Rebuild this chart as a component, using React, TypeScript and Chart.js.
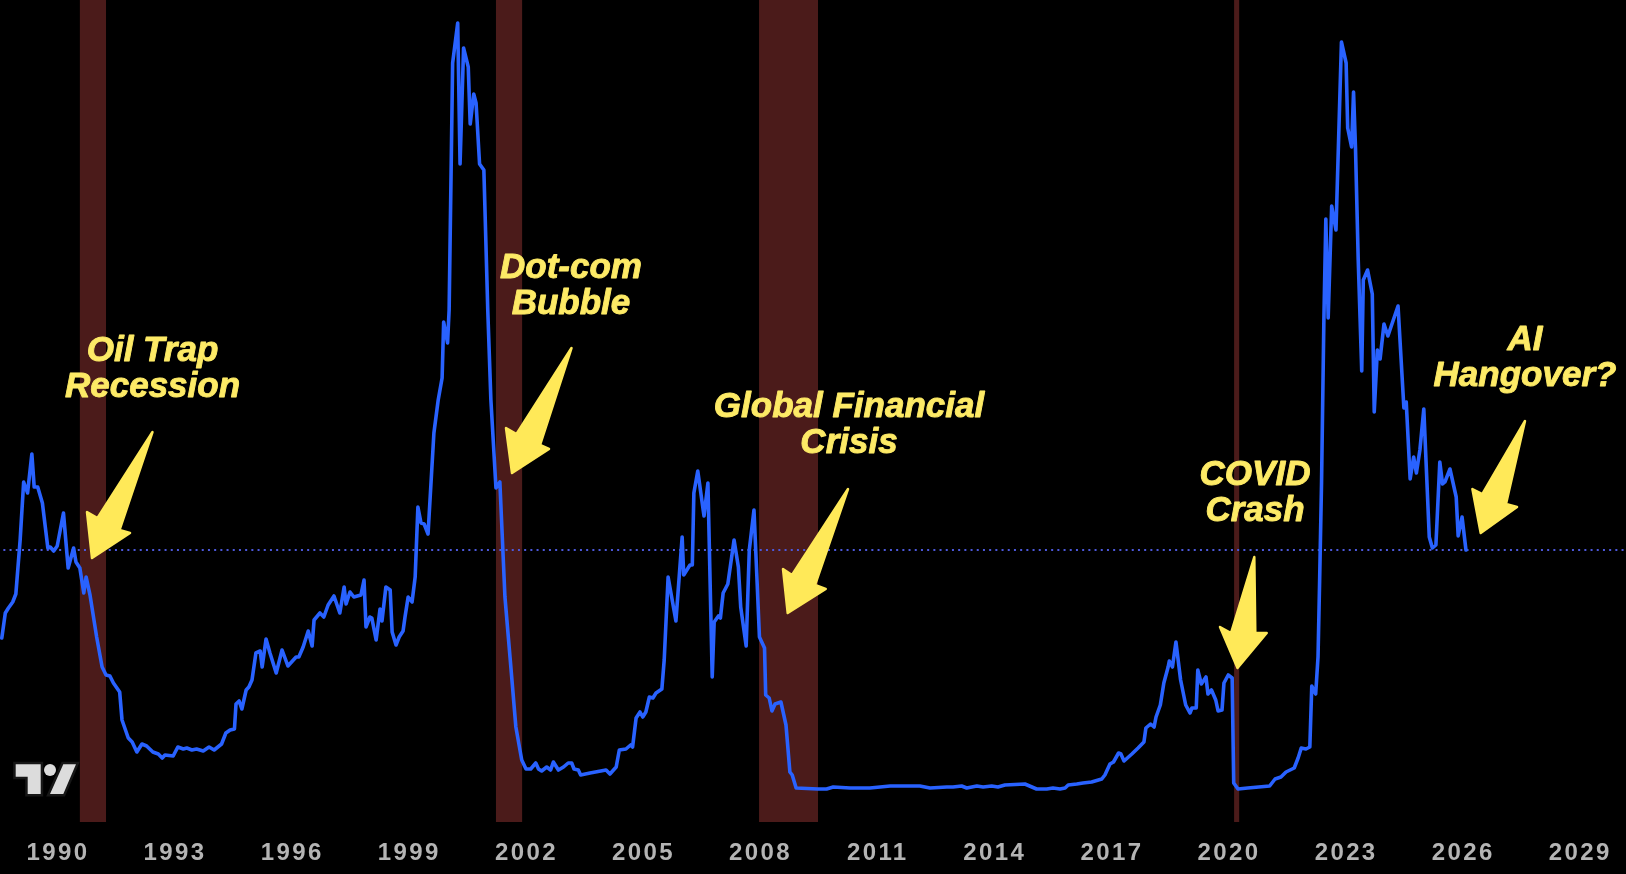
import { useEffect, useRef } from "react"
import { Chart, registerables } from "chart.js"

Chart.register(...registerables)

const tickYears = [1990, 1993, 1996, 1999, 2002, 2005, 2008, 2011, 2014, 2017, 2020, 2023, 2026, 2029]

// decimal year of each vertex
const dates = [
  1988.56, 1988.65, 1988.73, 1988.84, 1988.92, 1989.03, 1989.12, 1989.22, 1989.33, 1989.39, 1989.48, 1989.6,
  1989.74, 1989.8, 1989.89, 1989.98, 1990.14, 1990.26, 1990.4, 1990.46, 1990.56, 1990.66, 1990.72, 1990.82,
  1990.99, 1991.13, 1991.23, 1991.33, 1991.42, 1991.58, 1991.64, 1991.8, 1991.9, 1992.02, 1992.15, 1992.27,
  1992.43, 1992.57, 1992.67, 1992.74, 1992.95, 1993.07, 1993.21, 1993.3, 1993.43, 1993.55, 1993.72, 1993.87,
  1994.0, 1994.19, 1994.3, 1994.41, 1994.52, 1994.56, 1994.64, 1994.71, 1994.82, 1994.89, 1994.97, 1995.07,
  1995.18, 1995.23, 1995.33, 1995.43, 1995.59, 1995.74, 1995.89, 1996.1, 1996.17, 1996.28, 1996.41, 1996.51,
  1996.56, 1996.71, 1996.81, 1996.92, 1997.07, 1997.22, 1997.33, 1997.38, 1997.48, 1997.58, 1997.76, 1997.84,
  1997.89, 1997.99, 1998.04, 1998.15, 1998.25, 1998.3, 1998.4, 1998.51, 1998.56, 1998.66, 1998.74, 1998.84,
  1998.89, 1998.97, 1999.07, 1999.15, 1999.22, 1999.3, 1999.38, 1999.48, 1999.63, 1999.74, 1999.84, 1999.88,
  1999.98, 2000.02, 2000.11, 2000.24, 2000.3, 2000.39, 2000.51, 2000.56, 2000.65, 2000.71, 2000.8, 2000.91,
  2001.01, 2001.09, 2001.22, 2001.32, 2001.45, 2001.58, 2001.73, 2001.88, 2001.99, 2002.11, 2002.24, 2002.31,
  2002.39, 2002.52, 2002.62, 2002.69, 2002.82, 2002.95, 2003.07, 2003.16, 2003.22, 2003.33, 2003.39, 2003.63,
  2004.04, 2004.14, 2004.3, 2004.38, 2004.55, 2004.67, 2004.72, 2004.81, 2004.91, 2004.98, 2005.06, 2005.15,
  2005.24, 2005.32, 2005.47, 2005.53, 2005.63, 2005.83, 2005.99, 2006.03, 2006.19, 2006.25, 2006.29, 2006.39,
  2006.55, 2006.65, 2006.76, 2006.81, 2006.92, 2006.97, 2007.04, 2007.16, 2007.32, 2007.43, 2007.49, 2007.63,
  2007.71, 2007.83, 2007.9, 2007.97, 2008.1, 2008.13, 2008.22, 2008.29, 2008.37, 2008.52, 2008.65, 2008.75,
  2008.81, 2008.91, 2009.47, 2009.69, 2009.86, 2010.29, 2010.8, 2011.32, 2012.08, 2012.34, 2012.77, 2012.93,
  2013.15, 2013.28, 2013.54, 2013.7, 2013.92, 2014.08, 2014.26, 2014.77, 2015.07, 2015.33, 2015.49, 2015.67,
  2015.8, 2015.88, 2016.1, 2016.26, 2016.48, 2016.74, 2016.82, 2016.95, 2017.04, 2017.17, 2017.23, 2017.31,
  2017.51, 2017.67, 2017.82, 2017.87, 2017.99, 2018.08, 2018.13, 2018.24, 2018.33, 2018.44, 2018.47, 2018.55,
  2018.64, 2018.76, 2018.89, 2019.0, 2019.05, 2019.16, 2019.2, 2019.29, 2019.36, 2019.41, 2019.46, 2019.55,
  2019.66, 2019.72, 2019.82, 2019.87, 2019.98, 2020.08, 2020.12, 2020.23, 2020.48, 2021.04, 2021.18, 2021.33,
  2021.46, 2021.67, 2021.77, 2021.85, 2021.97, 2022.07, 2022.12, 2022.22, 2022.28, 2022.32, 2022.37, 2022.43,
  2022.48, 2022.54, 2022.63, 2022.74, 2022.88, 2023.0, 2023.04, 2023.14, 2023.19, 2023.24, 2023.31, 2023.4,
  2023.44, 2023.55, 2023.67, 2023.72, 2023.8, 2023.87, 2023.97, 2024.07, 2024.33, 2024.48, 2024.54, 2024.64,
  2024.73, 2024.8, 2024.89, 2024.99, 2025.13, 2025.21, 2025.3, 2025.4, 2025.47, 2025.53, 2025.66, 2025.82,
  2025.87, 2025.97, 2026.07,
]

const values = [
  18.4, 20.9, 21.4, 22.0, 22.8, 28.2, 34.0, 32.9, 36.8, 33.5, 33.5, 31.9,
  27.4, 27.5, 27.1, 27.6, 30.9, 25.4, 27.4, 26.0, 25.4, 22.9, 24.5, 22.7,
  18.5, 15.5, 14.7, 14.6, 13.9, 13.0, 10.2, 8.4, 8.0, 7.0, 7.8, 7.6,
  7.0, 6.8, 6.4, 6.7, 6.6, 7.5, 7.3, 7.4, 7.2, 7.3, 7.1, 7.5,
  7.2, 7.8, 8.9, 9.2, 9.3, 11.8, 12.1, 11.3, 13.2, 13.5, 14.2, 16.9,
  17.1, 15.5, 18.3, 16.9, 14.9, 17.2, 15.6, 16.5, 16.5, 17.5, 19.1, 17.6,
  20.2, 20.9, 20.5, 21.7, 22.6, 20.9, 23.5, 21.8, 23.0, 22.5, 22.7, 24.2,
  19.5, 20.5, 20.4, 18.2, 21.3, 20.1, 23.5, 23.2, 19.0, 17.7, 18.5, 19.1,
  20.5, 22.5, 22.0, 24.5, 31.5, 29.9, 29.8, 28.8, 38.9, 42.2, 44.4, 50.0,
  47.9, 51.2, 75.9, 79.9, 65.8, 77.4, 75.5, 69.8, 72.8, 71.9, 65.8, 65.2,
  51.2, 42.2, 33.4, 34.0, 22.5, 16.5, 9.5, 6.2, 5.3, 5.3, 5.9, 5.3,
  5.1, 5.5, 5.2, 6.0, 5.2, 5.5, 5.9, 5.9, 5.3, 5.2, 4.7, 4.9,
  5.2, 4.8, 5.5, 7.2, 7.3, 7.7, 7.5, 10.4, 11.0, 10.5, 11.0, 12.5,
  12.4, 12.9, 13.3, 16.2, 24.5, 20.1, 28.5, 24.7, 25.7, 25.7, 32.9, 35.1,
  30.6, 33.9, 14.5, 20.0, 20.6, 20.4, 22.9, 23.8, 28.2, 25.5, 21.5, 17.6,
  27.2, 31.2, 24.9, 18.5, 17.4, 12.7, 12.4, 11.1, 11.8, 12.0, 9.7, 5.0,
  4.7, 3.4, 3.3, 3.3, 3.5, 3.4, 3.4, 3.6, 3.6, 3.4, 3.5, 3.5,
  3.6, 3.4, 3.6, 3.5, 3.6, 3.5, 3.7, 3.8, 3.3, 3.3, 3.4, 3.3,
  3.4, 3.7, 3.8, 3.9, 4.0, 4.3, 4.7, 5.8, 6.0, 6.9, 6.8, 6.1,
  6.8, 7.4, 8.0, 9.4, 9.8, 9.5, 10.5, 11.7, 13.9, 15.5, 16.1, 15.5,
  18.0, 14.2, 11.7, 10.9, 11.4, 11.4, 15.2, 13.8, 14.2, 14.5, 12.8, 13.2,
  12.2, 11.1, 11.2, 13.9, 14.7, 14.4, 3.9, 3.3, 3.4, 3.6, 4.3, 4.5,
  5.0, 5.4, 6.4, 7.4, 7.3, 7.5, 13.6, 12.8, 16.5, 23.9, 33.9, 50.2,
  60.3, 50.4, 61.6, 59.2, 78.0, 75.9, 69.4, 67.5, 73.0, 67.4, 56.2, 45.1,
  54.2, 55.2, 52.8, 41.0, 47.2, 46.3, 49.8, 48.6, 51.6, 41.4, 42.0, 34.3,
  36.5, 34.9, 37.2, 41.3, 28.5, 27.4, 27.7, 36.0, 33.8, 34.0, 35.3, 32.5,
  28.6, 30.5, 27.2,
]

const currentLevel = 27.2
const levelSpan = [1988.6, 2030.17]

const recessionStarts = [1990.56, 2001.22, 2007.96, 2020.13]
const recessionEnds = [1991.23, 2001.89, 2009.47, 2020.26]

// hand drawn call-outs sit on top of the chart in screen position
const callouts = [
  { lines: ["Oil Trap", "Recession"], x: 152.5, y: 351.5, arrow: [[152.5, 432], [119.5, 530], [130, 533], [92, 558], [87, 512], [97.5, 518]] },
  { lines: ["Dot-com", "Bubble"], x: 571, y: 268.5, arrow: [[571.5, 348], [540, 445], [549, 449], [512, 473], [506, 428], [516.5, 434]] },
  { lines: ["Global Financial", "Crisis"], x: 849, y: 407.5, arrow: [[848, 489], [815, 585], [825.7, 589], [787.7, 613], [783, 569], [792, 575]] },
  { lines: ["COVID", "Crash"], x: 1255, y: 475.5, arrow: [[1254.3, 557], [1255.3, 633], [1266.7, 633], [1237.5, 668], [1220, 627], [1231, 633]] },
  { lines: ["AI", "Hangover?"], x: 1525, y: 340.5, arrow: [[1525, 421], [1506, 504], [1517, 507], [1480.7, 533], [1472.4, 489], [1482.4, 494]] },
]

const recessionBands = {
  id: "recessionBands",
  beforeDatasetsDraw(chart: Chart) {
    const { ctx, chartArea, scales } = chart
    ctx.save()
    ctx.fillStyle = "#4b1b1a"
    recessionStarts.forEach((start, i) => {
      const left = scales.x.getPixelForValue(start)
      const right = scales.x.getPixelForValue(recessionEnds[i])
      ctx.fillRect(left, chartArea.top, right - left, chartArea.bottom - chartArea.top)
    })
    ctx.restore()
  },
}

const overlay = {
  id: "overlay",
  beforeDraw(chart: Chart) {
    // tick labels are spaced out a bit in the original
    ;(chart.ctx as any).letterSpacing = "2.4px"
  },
  afterDraw(chart: Chart) {
    const { ctx } = chart
    ctx.save()
    ;(ctx as any).letterSpacing = "0px"

    // TradingView mark
    ctx.fillStyle = "#dcdcdc"
    ctx.strokeStyle = "#171717"
    ctx.lineWidth = 5
    ctx.lineJoin = "miter"
    const logo = new Path2D("M15.7 764.3H40.7V794H27.7V776.7H15.7Z M63.3 764.3H76L63.3 794H50Z")
    ctx.stroke(logo)
    ctx.fill(logo)
    ctx.beginPath()
    ctx.arc(50, 770, 6, 0, Math.PI * 2)
    ctx.fill()

    ctx.lineJoin = "round"
    ctx.lineWidth = 2.5
    ctx.fillStyle = "#ffe958"
    ctx.strokeStyle = "#ffe958"
    callouts.forEach((c) => {
      ctx.beginPath()
      c.arrow.forEach(([x, y], i) => (i ? ctx.lineTo(x, y) : ctx.moveTo(x, y)))
      ctx.closePath()
      ctx.fill()
      ctx.stroke()
    })

    ctx.fillStyle = "#fdea66"
    ctx.strokeStyle = "#fdea66"
    ctx.lineWidth = 0.9
    ctx.font = "italic bold 35px 'Liberation Sans'"
    ctx.textAlign = "center"
    ctx.textBaseline = "middle"
    callouts.forEach((c) => {
      c.lines.forEach((line, i) => {
        ctx.fillText(line, c.x, c.y + i * 35.5)
        ctx.strokeText(line, c.x, c.y + i * 35.5)
      })
    })
    ctx.restore()
  },
}

export default function App() {
  const chartRef = useRef<HTMLCanvasElement>(null)

  useEffect(() => {
    document.body.style.margin = "0"
    document.body.style.background = "#000"
    if (!chartRef.current) return

    const chart = new Chart(chartRef.current, {
      type: "line",
      data: {
        datasets: [
          {
            data: dates.map((d, i) => ({ x: d, y: values[i] })),
            borderColor: "#2962ff",
            borderWidth: 3.6,
            borderJoinStyle: "round",
            borderCapStyle: "round",
            pointRadius: 0,
            tension: 0,
            order: 1,
          },
          {
            data: levelSpan.map((d) => ({ x: d, y: currentLevel })),
            borderColor: "#4c58dc",
            borderWidth: 2,
            borderDash: [2, 4.2],
            pointRadius: 0,
            order: 2,
          },
        ],
      },
      options: {
        responsive: false,
        animation: false,
        layout: { padding: 0 },
        plugins: { legend: { display: false }, tooltip: { enabled: false } },
        scales: {
          x: {
            type: "linear",
            min: 1988.514,
            max: 2030.17,
            grid: { display: false, drawTicks: false },
            border: { display: false },
            afterBuildTicks: (scale) => {
              scale.ticks = tickYears.map((value) => ({ value }))
            },
            afterFit: (scale) => {
              scale.height = 52
            },
            ticks: {
              autoSkip: false,
              maxRotation: 0,
              padding: 17,
              color: "#b4b4b4",
              font: { family: "'Liberation Sans'", size: 24, weight: "bold" },
              callback: (value) => String(value),
            },
          },
          y: { display: false, min: 0, max: 82.2 },
        },
      },
      plugins: [recessionBands, overlay],
    })

    return () => {
      chart.destroy()
    }
  }, [])

  return (
    <div style={{ width: 1626, height: 874, background: "#000" }}>
      <canvas ref={chartRef} width={1626} height={874} style={{ display: "block" }} />
    </div>
  )
}
